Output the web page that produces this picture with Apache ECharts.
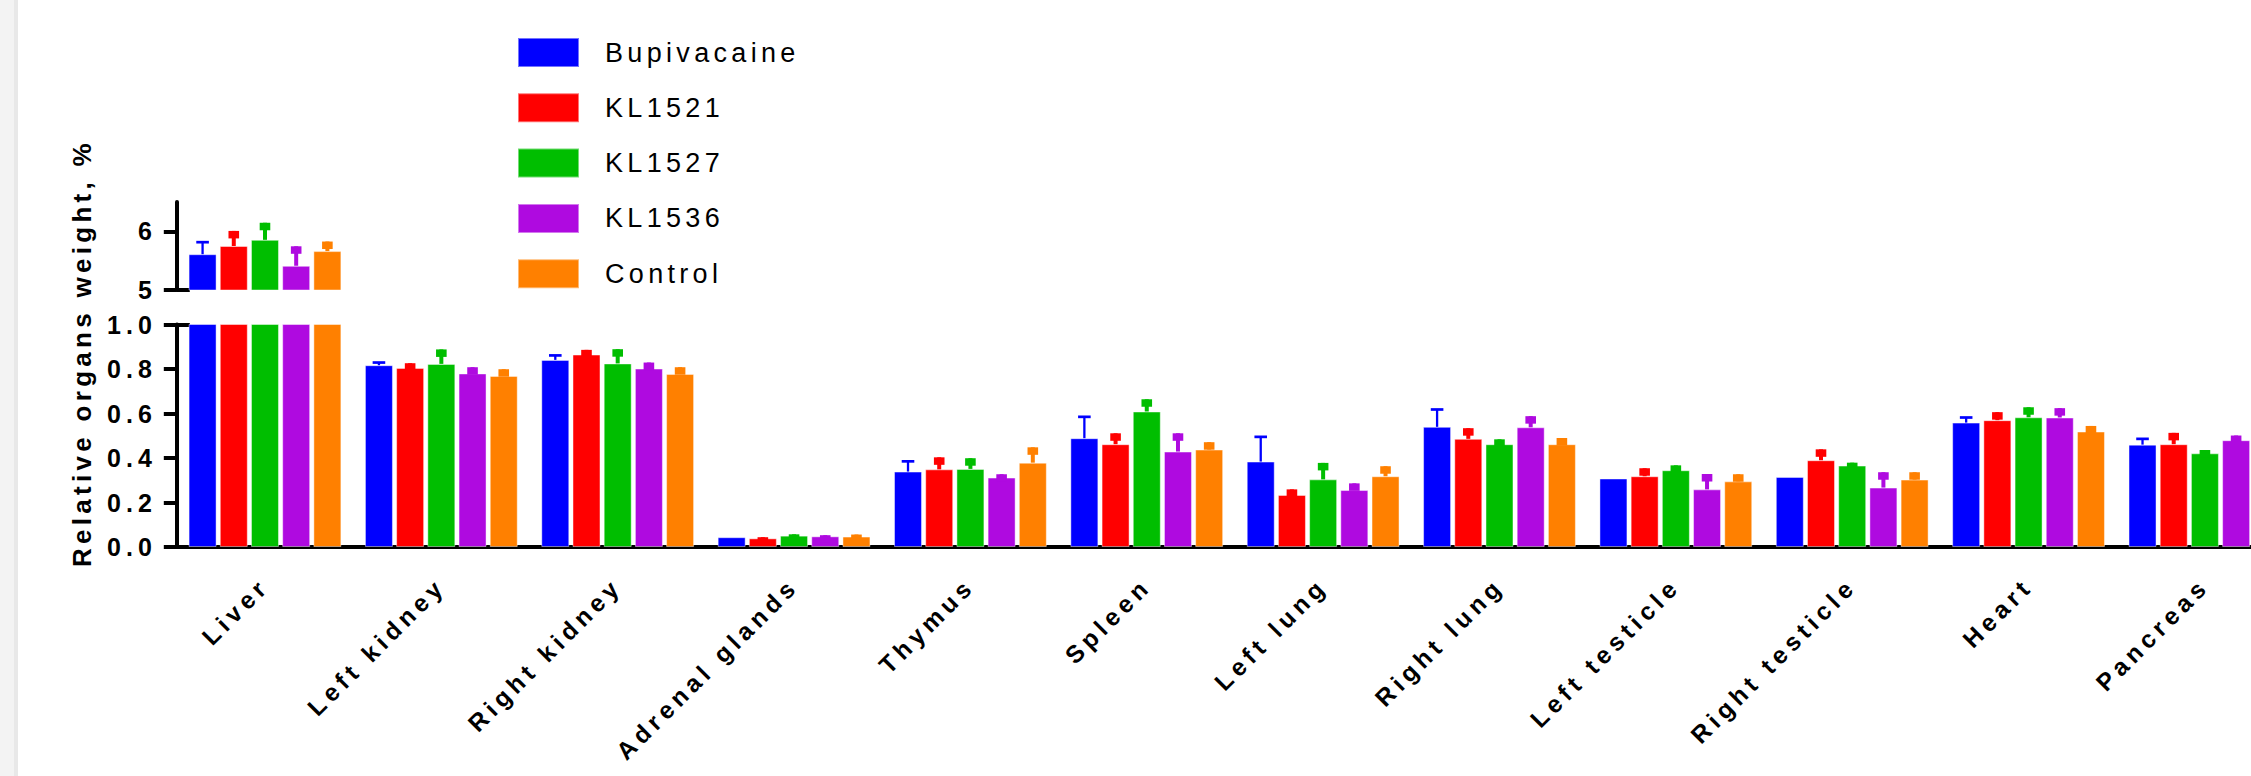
<!DOCTYPE html>
<html>
<head>
<meta charset="utf-8">
<script src="https://cdn.jsdelivr.net/npm/echarts@6/dist/echarts.min.js"></script>
<style>
  html, body { margin: 0; padding: 0; background: #ffffff; overflow: hidden; }
  #main { width: 2251px; height: 776px; }
  #main text { letter-spacing: 0.2em; }
  #main text[style*="27px"] { letter-spacing: 0.16em; }
  #main text[style*="26px"] { letter-spacing: 0.165em; }
</style>
</head>
<body>
<div id="main"></div>
<script>
// ---------------- DATA ----------------
const categories = ['Liver', 'Left kidney', 'Right kidney', 'Adrenal glands', 'Thymus', 'Spleen',
  'Left lung', 'Right lung', 'Left testicle', 'Right testicle', 'Heart', 'Pancreas'];
const seriesNames = ['Bupivacaine', 'KL1521', 'KL1527', 'KL1536', 'Control'];

// mean values (relative organ weight, %)
const bupivacaine = [5.61, 0.817, 0.841, 0.044, 0.339, 0.489, 0.384, 0.540, 0.308, 0.315, 0.559, 0.460];
const kl1521      = [5.75, 0.805, 0.865, 0.039, 0.349, 0.462, 0.234, 0.486, 0.318, 0.390, 0.570, 0.462];
const kl1527      = [5.855, 0.823, 0.825, 0.051, 0.351, 0.609, 0.304, 0.462, 0.345, 0.366, 0.583, 0.421];
const kl1536      = [5.413, 0.780, 0.802, 0.048, 0.312, 0.429, 0.256, 0.538, 0.259, 0.267, 0.582, 0.480];
const control     = [5.663, 0.769, 0.778, 0.047, 0.379, 0.438, 0.318, 0.462, 0.295, 0.303, 0.519, null]; // Pancreas bar is cut off in the source

// upper error (SD)
const bupivacaineSD = [0.205, 0.012, 0.020, 0, 0.046, 0.096, 0.111, 0.078, 0, 0, 0.023, 0.026];
const kl1521SD      = [0.257, 0.021, 0.021, 0.005, 0.054, 0.049, 0.025, 0.048, 0.036, 0.049, 0.036, 0.051];
const kl1527SD      = [0.291, 0.065, 0.064, 0.006, 0.048, 0.055, 0.074, 0.022, 0.022, 0.013, 0.045, 0.015];
const kl1536SD      = [0.332, 0.028, 0.027, 0.005, 0.015, 0.082, 0.030, 0.050, 0.069, 0.069, 0.042, 0.021];
const controlSD     = [0.163, 0.030, 0.030, 0.009, 0.069, 0.033, 0.045, 0.028, 0.032, 0.033, 0.025, null];

// axis ticks
const lowerTicks = [0, 0.2, 0.4, 0.6, 0.8, 1.0];
const upperTicks = [5, 6];
const yAxisTitle = 'Relative organs weight, %';

// ---------------- STYLE / LAYOUT ----------------
const means = [bupivacaine, kl1521, kl1527, kl1536, control];
const sds = [bupivacaineSD, kl1521SD, kl1527SD, kl1536SD, controlSD];
const colors = ['#0000FF', '#FF0000', '#00BE00', '#AF0AE0', '#FF8000'];
const FONT = '"Liberation Sans", Arial, Helvetica, sans-serif';
const GRID_LEFT = 176.8, GRID_WIDTH = 2116.3; // plot area runs past the right edge (cropped like the source)
const BAR_W = 28, BAR_GAP = 3.2, PITCH = BAR_W + BAR_GAP;
const LOW_MAX = 1, UP_MIN = 5, UP_MAX = 6.5;
const AX = { color: '#000', width: 4 };

function errSeries(si, upper) {
  return {
    type: 'custom',
    name: seriesNames[si] + ' SD',
    xAxisIndex: upper ? 0 : 1,
    yAxisIndex: upper ? 0 : 1,
    silent: true,
    z: 3,
    encode: { x: 0, y: 1 },
    data: categories.map((c, i) => [i, means[si][i], sds[si][i]]),
    renderItem: function (params, api) {
      const m = api.value(1), sd = api.value(2);
      if (m == null || isNaN(m) || !(sd > 0)) return null;
      if (!upper && m > LOW_MAX) return null;
      if (upper && m < UP_MIN) return null;
      const base = api.coord([api.value(0), m]);
      const top = api.coord([api.value(0), m + sd]);
      const x = base[0] + (si - 2) * PITCH;
      const col = colors[si];
      if (si === 0) {
        return {
          type: 'group',
          children: [
            { type: 'line', shape: { x1: x, y1: base[1], x2: x, y2: top[1] }, style: { stroke: col, lineWidth: 2.3 } },
            { type: 'line', shape: { x1: x - 6.3, y1: top[1], x2: x + 6.3, y2: top[1] }, style: { stroke: col, lineWidth: 2.7 } }
          ]
        };
      }
      return {
        type: 'group',
        children: [
          { type: 'rect', shape: { x: x - 2, y: top[1], width: 4, height: Math.max(0, base[1] - top[1]) }, style: { fill: col } },
          { type: 'rect', shape: { x: x - 5.3, y: top[1], width: 10.6, height: 7.5 }, style: { fill: col } }
        ]
      };
    }
  };
}

function barSeries(si, upper) {
  return {
    type: 'bar',
    name: seriesNames[si],
    xAxisIndex: upper ? 0 : 1,
    yAxisIndex: upper ? 0 : 1,
    data: means[si],
    barWidth: BAR_W,
    barGap: (BAR_GAP / BAR_W * 100).toFixed(2) + '%',
    clip: true,
    itemStyle: { color: colors[si], borderColor: 'rgba(255,255,255,0.45)', borderWidth: 1 },
    emphasis: { disabled: true }
  };
}

const series = [];
for (let i = 0; i < 5; i++) series.push(barSeries(i, true));
for (let i = 0; i < 5; i++) series.push(barSeries(i, false));
for (let i = 0; i < 5; i++) series.push(errSeries(i, true));
for (let i = 0; i < 5; i++) series.push(errSeries(i, false));

const labelFont = { color: '#000', fontFamily: FONT, fontWeight: 'bold', fontSize: 25 };

const option = {
  animation: false,
  backgroundColor: '#ffffff',
  legend: {
    data: seriesNames,
    orient: 'vertical',
    left: 517,
    top: 37,
    padding: 0,
    itemWidth: 61,
    itemHeight: 29,
    itemGap: 24.3,
    icon: 'rect',
    selectedMode: false,
    textStyle: { color: '#000', fontFamily: FONT, fontSize: 27, padding: [0, 0, 0, 21] }
  },
  grid: [
    { left: GRID_LEFT, width: GRID_WIDTH, top: 202, height: 88, outerBoundsMode: 'none', containLabel: false },
    { left: GRID_LEFT, width: GRID_WIDTH, top: 324.5, height: 222.5, outerBoundsMode: 'none', containLabel: false }
  ],
  xAxis: [
    { gridIndex: 0, type: 'category', data: categories, show: false },
    {
      gridIndex: 1, type: 'category', data: categories,
      axisLine: { lineStyle: AX },
      axisTick: { alignWithLabel: true, length: 14, lineStyle: AX },
      axisLabel: { interval: 0, rotate: 45, margin: 35, color: '#000', fontFamily: FONT, fontWeight: 'bold', fontSize: 24.5 }
    }
  ],
  yAxis: [
    {
      gridIndex: 0, type: 'value', position: 'left', min: UP_MIN, max: UP_MAX, interval: 1,
      axisLine: { show: true, lineStyle: AX },
      axisTick: { show: true, length: 13, customValues: upperTicks, lineStyle: AX },
      axisLabel: Object.assign({ customValues: upperTicks, margin: 20, formatter: v => String(v) }, labelFont),
      splitLine: { show: false }
    },
    {
      gridIndex: 1, type: 'value', position: 'left', min: 0, max: LOW_MAX, interval: 0.2,
      axisLine: { show: true, lineStyle: AX },
      axisTick: { show: true, length: 13, customValues: lowerTicks, lineStyle: AX },
      axisLabel: Object.assign({ customValues: lowerTicks, margin: 20, formatter: v => v.toFixed(1) }, labelFont),
      splitLine: { show: false }
    },
    {
      gridIndex: 0, type: 'value', position: 'left', min: UP_MIN, max: UP_MAX,
      axisLine: { show: false },
      axisTick: { show: true, inside: true, length: 13, customValues: [upperTicks[0]], lineStyle: AX },
      axisLabel: { show: false }, splitLine: { show: false }
    },
    {
      gridIndex: 1, type: 'value', position: 'left', min: 0, max: LOW_MAX,
      axisLine: { show: false },
      axisTick: { show: true, inside: true, length: 13, customValues: [lowerTicks[lowerTicks.length - 1]], lineStyle: AX },
      axisLabel: { show: false }, splitLine: { show: false }
    }
  ],
  graphic: [
    { type: 'rect', left: 0, top: 0, shape: { width: 14, height: 776 }, style: { fill: '#f3f3f3' }, silent: true, z: -10 },
    { type: 'rect', left: 14, top: 0, shape: { width: 4, height: 776 }, style: { fill: '#e8e8e8' }, silent: true, z: -10 },
    {
      type: 'text', x: 82, y: 353, rotation: Math.PI / 2,
      style: { text: yAxisTitle, fill: '#000', font: 'bold 26px ' + FONT, align: 'center', verticalAlign: 'middle' }
    }
  ],
  series: series
};

const chart = echarts.init(document.getElementById('main'), null, { renderer: 'svg', width: 2251, height: 776 });
chart.setOption(option);
</script>
</body>
</html>
